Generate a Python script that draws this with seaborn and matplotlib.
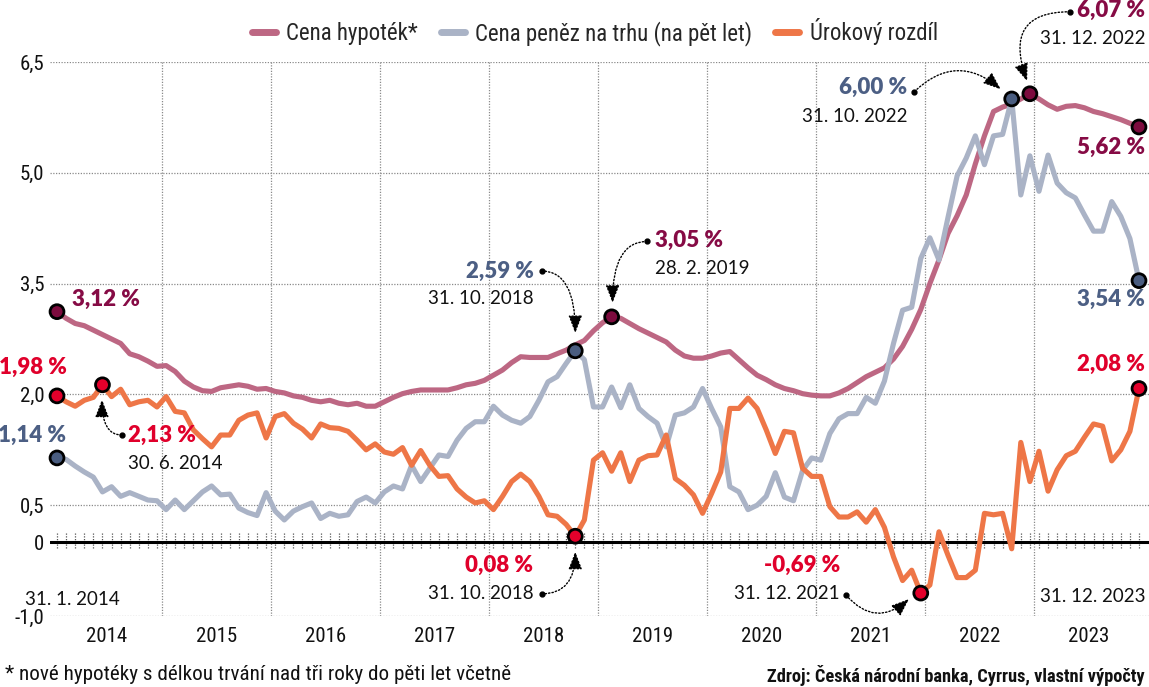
import numpy as np
import pandas as pd
import matplotlib.pyplot as plt
import seaborn as sns

# monthly values, Jan 2014 .. Dec 2023 (in %)
hypoteky = [3.12, 3.03, 2.96, 2.93, 2.87, 2.81, 2.75, 2.69, 2.55, 2.51, 2.45, 2.38,
            2.39, 2.31, 2.18, 2.10, 2.05, 2.04, 2.09, 2.11, 2.13, 2.11, 2.07, 2.08,
            2.04, 2.02, 1.98, 1.96, 1.92, 1.90, 1.92, 1.88, 1.86, 1.88, 1.84, 1.84,
            1.90, 1.96, 2.01, 2.04, 2.06, 2.06, 2.06, 2.06, 2.09, 2.13, 2.15, 2.19,
            2.26, 2.33, 2.43, 2.51, 2.50, 2.50, 2.50, 2.55, 2.60, 2.67, 2.73, 2.86,
            2.97, 3.05, 3.03, 2.96, 2.89, 2.83, 2.77, 2.71, 2.60, 2.52, 2.49, 2.49,
            2.52, 2.56, 2.58, 2.47, 2.36, 2.26, 2.20, 2.13, 2.08, 2.05, 2.01, 1.99,
            1.98, 1.98, 2.02, 2.08, 2.16, 2.24, 2.30, 2.36, 2.48, 2.65, 2.88, 3.15,
            3.50, 3.82, 4.18, 4.42, 4.70, 5.12, 5.50, 5.83, 5.89, 5.93, 6.00, 6.07,
            6.00, 5.92, 5.86, 5.90, 5.91, 5.88, 5.83, 5.80, 5.76, 5.72, 5.67, 5.62]
penize = [1.14, 1.12, 1.03, 0.95, 0.88, 0.68, 0.75, 0.62, 0.67, 0.62, 0.57, 0.56,
          0.44, 0.57, 0.44, 0.56, 0.68, 0.76, 0.64, 0.65, 0.46, 0.40, 0.36, 0.67,
          0.42, 0.30, 0.42, 0.48, 0.53, 0.32, 0.39, 0.35, 0.37, 0.55, 0.61, 0.53,
          0.68, 0.76, 0.72, 1.04, 0.82, 1.00, 1.18, 1.16, 1.38, 1.54, 1.63, 1.63,
          1.84, 1.72, 1.65, 1.61, 1.70, 1.92, 2.17, 2.24, 2.42, 2.59, 2.47, 1.83,
          1.83, 2.10, 1.82, 2.13, 1.81, 1.70, 1.61, 1.29, 1.72, 1.75, 1.83, 2.08,
          1.81, 1.56, 0.75, 0.68, 0.44, 0.50, 0.62, 0.94, 0.61, 0.56, 0.97, 1.14,
          1.11, 1.47, 1.67, 1.74, 1.74, 1.96, 1.88, 2.18, 2.69, 3.14, 3.18, 3.84,
          4.12, 3.82, 4.40, 4.96, 5.20, 5.50, 5.11, 5.50, 5.52, 6.00, 4.70, 5.23,
          4.75, 5.24, 4.86, 4.73, 4.66, 4.43, 4.21, 4.21, 4.61, 4.41, 4.11, 3.54]
rozdil = [1.98, 1.90, 1.84, 1.92, 1.96, 2.13, 1.97, 2.07, 1.86, 1.90, 1.92, 1.83,
          1.97, 1.77, 1.75, 1.52, 1.40, 1.29, 1.45, 1.45, 1.65, 1.72, 1.75, 1.41,
          1.70, 1.74, 1.61, 1.53, 1.41, 1.60, 1.55, 1.54, 1.50, 1.38, 1.25, 1.33,
          1.22, 1.19, 1.28, 1.04, 1.24, 1.04, 0.89, 0.90, 0.72, 0.61, 0.53, 0.56,
          0.44, 0.62, 0.82, 0.92, 0.82, 0.62, 0.37, 0.35, 0.24, 0.08, 0.30, 1.11,
          1.21, 0.96, 1.21, 0.82, 1.11, 1.17, 1.18, 1.45, 0.86, 0.77, 0.64, 0.39,
          0.66, 0.95, 1.81, 1.81, 1.95, 1.81, 1.52, 1.20, 1.50, 1.48, 1.00, 0.89,
          0.89, 0.48, 0.34, 0.34, 0.41, 0.27, 0.44, 0.20, -0.20, -0.52, -0.38, -0.69,
          -0.58, 0.14, -0.18, -0.48, -0.48, -0.38, 0.39, 0.37, 0.39, -0.09, 1.35, 0.82,
          1.23, 0.69, 0.98, 1.17, 1.23, 1.42, 1.60, 1.57, 1.10, 1.25, 1.50, 2.08]

months = pd.date_range('2014-01-31', periods=120, freq='ME')
years = [str(y) for y in range(2014, 2024)]
series_names = ['Cena hypoték*', 'Cena peněz na trhu (na pět let)', 'Úrokový rozdíl']
line_colors = ['#bd6783', '#aab3c6', '#ee7647']
dot_colors = ['#7d0b3e', '#4a5d80', '#e3002b']
text_colors = ['#860b45', '#4c5f84', '#e0002b']
ytick_vals = [-1.0, 0, 0.5, 2.0, 3.5, 5.0, 6.5]
ytick_labels = ['-1,0', '0', '0,5', '2,0', '3,5', '5,0', '6,5']
# highlighted months (index into the series)
hl_hyp = [0, 61, 107, 119]
hl_pen = [0, 57, 105, 119]
hl_roz = [0, 5, 57, 95, 119]

df = pd.DataFrame({'m': np.arange(len(months)),
                   series_names[0]: hypoteky,
                   series_names[1]: penize,
                   series_names[2]: rozdil})
long_df = df.melt(id_vars='m', var_name='rada', value_name='sazba')

sns.set_theme(style='white')
narrow = ['Roboto Condensed', 'Liberation Sans']
lato = ['Lato', 'DejaVu Sans']
plt.rcParams['font.family'] = narrow

fig = plt.figure(figsize=(11.49, 6.87), dpi=100)
ax = fig.add_axes([50 / 1149, 71 / 687, 1099 / 1149, 554 / 687])

sns.lineplot(data=long_df, x='m', y='sazba', hue='rada', hue_order=series_names,
             palette=line_colors, linewidth=3.7, ax=ax, zorder=3)
for ln in ax.lines:
    ln.set_solid_capstyle('round')
    ln.set_solid_joinstyle('round')

# highlighted points
pts = []
for name, vals, idx in zip(series_names, [hypoteky, penize, rozdil],
                           [hl_hyp, hl_pen, hl_roz]):
    for i in idx:
        pts.append({'m': i, 'sazba': vals[i], 'rada': name})
pts = pd.DataFrame(pts)
sns.scatterplot(data=pts, x='m', y='sazba', hue='rada', hue_order=series_names,
                palette=dot_colors, s=100, edgecolor='black', linewidth=2.0,
                ax=ax, zorder=5, legend=False, clip_on=False)

ax.set_xlim(-0.77, 120.1)
ax.set_ylim(-1.0, 6.5)
ax.set_yticks(ytick_vals)
ax.set_yticklabels(ytick_labels)
ax.set_xticks(np.arange(5.5, 120, 12))
ax.set_xticklabels(years)
ax.set_xticks(np.arange(11.5, 119, 12), minor=True)
ax.tick_params(axis='both', which='both', length=0, labelsize=15, colors='#111111')
ax.tick_params(axis='x', pad=8)
ax.tick_params(axis='y', pad=4)
ax.set_xlabel('')
ax.set_ylabel('')
for sp in ax.spines.values():
    sp.set_visible(False)
ax.grid(axis='y', which='major', linestyle=(0, (1, 1.2)), color='#8a8a8a', linewidth=0.9)
ax.grid(axis='x', which='minor', linestyle=(0, (1, 1.2)), color='#8a8a8a', linewidth=0.9)
ax.grid(axis='x', which='major', visible=False)
ax.axhline(0, color='black', linewidth=2.2, zorder=2)
ax.vlines(df['m'], -0.08, 0.14, colors='#555555', linestyles=(0, (1, 1.2)),
          linewidth=0.9, zorder=1)

# legend
leg = ax.legend(loc='center left', bbox_to_anchor=(252 / 1149, 1 - 32 / 687),
                bbox_transform=fig.transFigure, ncol=3, frameon=False,
                fontsize=16.5, handlelength=1.05, handletextpad=0.45,
                columnspacing=1.0, borderpad=0, borderaxespad=0)
for h in leg.get_lines():
    h.set_linewidth(5)
    h.set_solid_capstyle('round')


def pct(v):
    return f'{v:.2f}'.replace('.', ',') + ' %'


def label(x, y, txt, col, ha):
    ax.text(x, y, txt, color=col, ha=ha, va='center', fontsize=16,
            fontweight='heavy', family=lato, clip_on=False, zorder=6)


def date(x, y, txt, ha):
    ax.text(x, y, txt, color='#111111', ha=ha, va='center', fontsize=13.5,
            family=lato, clip_on=False, zorder=6)


def arrow(start, end, conn):
    ax.plot([start[0]], [start[1]], 'o', color='black', ms=3.5, clip_on=False, zorder=6)
    ax.annotate('', xy=end, xytext=start, annotation_clip=False,
                arrowprops=dict(arrowstyle='-|>,head_length=0.9,head_width=0.35',
                                linestyle=(0, (1, 1.5)), color='black', lw=1.0,
                                connectionstyle=conn, shrinkA=0, shrinkB=0))


ch, cp, cr = text_colors
label(1.65, 3.28, pct(hypoteky[0]), ch, 'left')
label(-2.64, 2.36, pct(rozdil[0]), cr, 'center')
label(-2.75, 1.45, pct(penize[0]), cp, 'center')
date(-3.5, -0.78, '31. 1. 2014', 'left')

label(7.8, 1.44, pct(rozdil[5]), cr, 'left')
date(7.8, 1.07, '30. 6. 2014', 'left')
arrow((7.1, 1.45), (4.95, 1.93), 'angle3,angleA=180,angleB=90')

label(52.4, 3.66, pct(penize[57]), cp, 'right')
date(52.4, 3.30, '31. 10. 2018', 'right')
arrow((53.3, 3.67), (57.0, 2.83), 'angle3,angleA=0,angleB=90')

label(65.8, 4.08, pct(hypoteky[61]), ch, 'left')
date(65.8, 3.71, '28. 2. 2019', 'left')
arrow((64.9, 4.07), (61.1, 3.24), 'angle3,angleA=180,angleB=90')

label(52.4, -0.32, pct(rozdil[57]), cr, 'right')
date(52.4, -0.69, '31. 10. 2018', 'right')
arrow((53.3, -0.70), (57.0, -0.13), 'angle3,angleA=0,angleB=90')

label(86.1, -0.32, pct(rozdil[95]), cr, 'right')
date(86.1, -0.69, '31. 12. 2021', 'right')
arrow((86.8, -0.72), (93.7, -0.77), 'arc3,rad=0.5')

label(93.5, 6.15, pct(penize[105]), cp, 'right')
date(93.5, 5.76, '31. 10. 2022', 'right')
arrow((94.3, 6.10), (103.8, 6.13), 'arc3,rad=-0.45')

label(119.7, 7.2, pct(hypoteky[107]), ch, 'right')
date(119.7, 6.82, '31. 12. 2022', 'right')
arrow((111.4, 7.18), (106.7, 6.24), 'angle3,angleA=180,angleB=110')

label(119.7, 5.35, pct(hypoteky[119]), ch, 'right')
label(119.7, 3.28, pct(penize[119]), cp, 'right')
label(119.7, 2.40, pct(rozdil[119]), cr, 'right')
date(119.7, -0.74, '31. 12. 2023', 'right')

fig.text(5 / 1149, 1 - 675 / 687, '* nové hypotéky s délkou trvání nad tři roky do pěti let včetně',
         fontsize=15.2, color='#111111', va='center', ha='left')
fig.text(1145 / 1149, 1 - 675 / 687, 'Zdroj: Česká národní banka, Cyrrus, vlastní výpočty',
         fontsize=13.2, fontweight='bold', color='#111111', va='center', ha='right')

fig.savefig('out.png', dpi=100)
